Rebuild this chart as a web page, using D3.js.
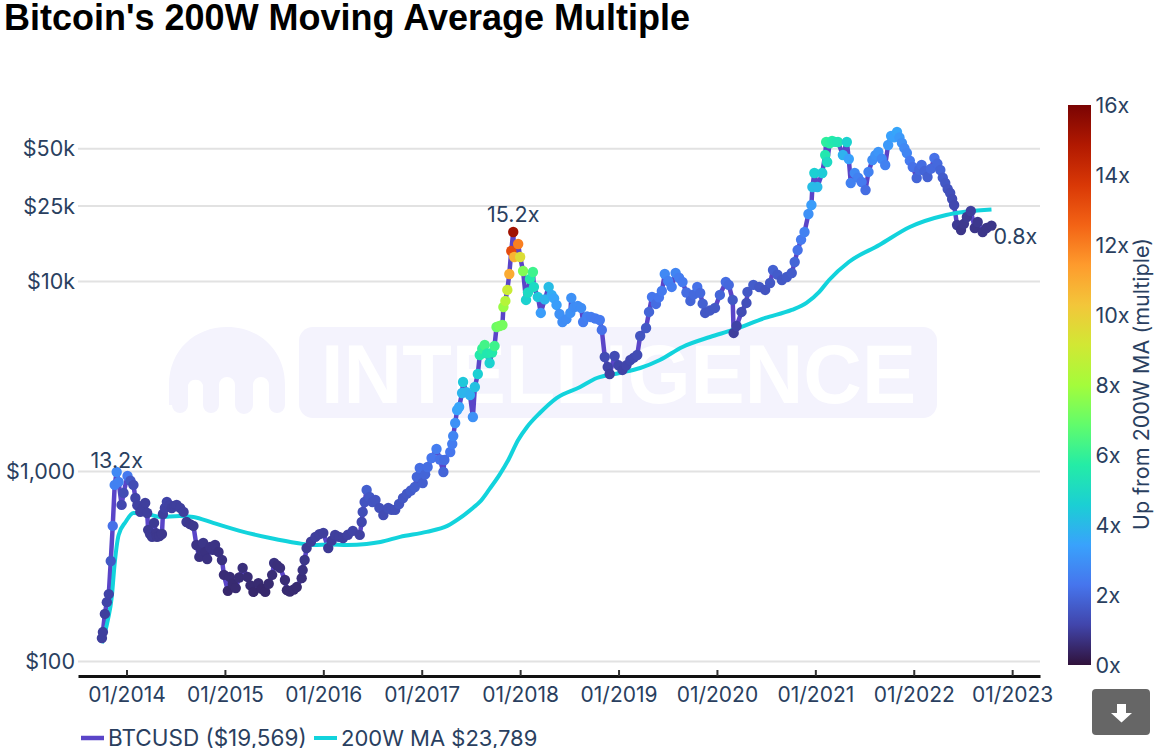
<!DOCTYPE html>
<html>
<head>
<meta charset="utf-8">
<script src="https://d3js.org/d3.v7.min.js"></script>
<style>
  body { margin: 0; background: #fff; }
  svg { display: block; }
  text { font-family: Inter, sans-serif; fill: #2a3f5f; }
</style>
</head>
<body>
<div id="chart"></div>
<script>
const btcYears = [
  2013.75,2013.76,2013.78,2013.80,2013.82,2013.84,2013.86,2013.88,2013.90,2013.92,
  2013.95,2013.97,2014.01,2014.04,2014.07,2014.09,2014.11,2014.14,2014.165,2014.19,
  2014.21,2014.22,2014.24,2014.26,2014.28,2014.30,2014.31,2014.335,2014.36,2014.37,
  2014.39,2014.41,2014.435,2014.46,2014.485,2014.51,2014.545,2014.58,2014.61,2014.645,
  2014.68,2014.71,2014.74,2014.76,2014.78,2014.80,2014.82,2014.85,2014.875,2014.90,
  2014.935,2014.97,2014.99,2015.03,2015.05,2015.08,2015.11,2015.145,2015.18,2015.23,
  2015.26,2015.29,2015.34,2015.375,2015.41,2015.445,2015.48,2015.50,2015.53,2015.56,
  2015.61,2015.63,2015.66,2015.70,2015.73,2015.78,2015.79,2015.81,2015.83,2015.875,
  2015.92,2015.96,2016.00,2016.05,2016.085,2016.12,2016.16,2016.20,2016.25,2016.30,
  2016.37,2016.39,2016.40,2016.42,2016.44,2016.47,2016.50,2016.53,2016.57,2016.61,
  2016.66,2016.695,2016.73,2016.77,2016.81,2016.85,2016.89,2016.93,2016.95,2016.98,
  2017.01,2017.035,2017.06,2017.10,2017.15,2017.185,2017.22,2017.23,2017.29,2017.31,
  2017.32,2017.34,2017.36,2017.38,2017.41,2017.42,2017.455,2017.49,2017.52,2017.54,
  2017.57,2017.59,2017.615,2017.64,2017.665,2017.69,2017.715,2017.74,2017.76,2017.79,
  2017.82,2017.83,2017.85,2017.87,2017.89,2017.91,2017.93,2017.94,2017.98,2018.00,
  2018.03,2018.06,2018.08,2018.10,2018.13,2018.14,2018.18,2018.21,2018.25,2018.29,
  2018.32,2018.345,2018.37,2018.40,2018.43,2018.47,2018.51,2018.52,2018.55,2018.585,
  2018.62,2018.64,2018.68,2018.72,2018.765,2018.81,2018.83,2018.86,2018.89,2018.91,
  2018.96,2019.00,2019.04,2019.08,2019.12,2019.155,2019.19,2019.22,2019.28,2019.31,
  2019.34,2019.38,2019.41,2019.44,2019.47,2019.505,2019.54,2019.58,2019.615,2019.65,
  2019.69,2019.73,2019.765,2019.80,2019.83,2019.855,2019.88,2019.93,2019.98,2020.03,
  2020.09,2020.12,2020.16,2020.17,2020.20,2020.25,2020.30,2020.31,2020.37,2020.43,
  2020.49,2020.54,2020.57,2020.615,2020.66,2020.71,2020.76,2020.79,2020.82,2020.855,
  2020.89,2020.93,2020.96,2020.97,2020.99,2021.02,2021.07,2021.10,2021.11,2021.12,
  2021.145,2021.17,2021.20,2021.23,2021.28,2021.32,2021.34,2021.36,2021.40,2021.435,
  2021.47,2021.51,2021.54,2021.58,2021.61,2021.64,2021.675,2021.71,2021.74,2021.77,
  2021.80,2021.83,2021.855,2021.88,2021.905,2021.93,2021.96,2021.99,2022.03,2022.055,
  2022.08,2022.11,2022.14,2022.175,2022.21,2022.24,2022.27,2022.295,2022.32,2022.345,
  2022.37,2022.39,2022.41,2022.44,2022.48,2022.51,2022.54,2022.58,2022.62,2022.65,
  2022.70,2022.74,2022.79
];
const btcPrices = [
  132,142,177,204,225,336,514,845,988,876,
  663,767,942,890,845,721,660,609,640,679,
  601,490,465,450,533,470,450,455,466,594,
  640,687,660,639,655,663,640,609,539,525,
  514,408,353,385,418,375,344,398,385,408,
  375,340,284,234,277,255,242,275,309,277,
  250,231,257,240,231,255,284,328,318,309,
  267,236,232,238,245,273,301,340,393,425,
  450,465,472,393,430,461,450,444,462,484,
  461,539,609,687,795,730,687,704,640,587,
  639,625,624,670,721,760,790,824,931,1037,
  865,960,1050,1170,1305,1150,988,1143,1259,1387,
  1528,1789,2094,2172,2573,2941,2600,2512,1924,2768,
  3241,4080,4400,4606,4150,3704,4200,4550,5730,5800,
  5870,7300,7853,8974,10886,14380,18110,13370,15660,13370,
  11290,7950,8700,10250,11150,9307,8243,6790,8000,9307,
  8446,8100,7482,6700,6088,6300,6790,8146,7300,7400,
  7215,6088,6500,6468,6350,6237,5526,3980,3528,3241,
  4030,3600,3403,3600,3840,3950,4080,5138,5660,6874,
  8243,7573,8200,8866,10886,10000,9307,11019,10400,9880,
  8700,7853,8500,9307,8653,7600,6790,7000,7215,8446,
  9880,9540,7950,5329,5800,6874,7666,8760,9540,9300,
  8974,9760,11430,10800,10122,10500,11019,12590,14550,16500,
  18110,22520,25120,31250,37040,31250,37040,46060,53900,42320,
  53000,54590,54000,53900,46060,53900,43880,32800,37040,35000,
  33200,30130,37500,43350,46000,47800,44000,40800,52000,58000,
  57000,60880,57000,53290,50000,47200,43000,39800,34850,38500,
  40800,38000,35280,39000,44400,41500,38400,35000,32800,30500,
  29060,27000,25120,19710,18550,20000,21720,23360,19000,20440,
  18110,19000,19569
];
const btcMultiples = [
  1,1,1,1.1,1.1,1.6,2.2,2.6,2.8,2.6,
  1.2,1.3,2.4,1.6,1.3,1.1,1.05,1,1,1,
  1,.9,.9,.9,.9,.85,.85,.85,.85,1,
  1.05,1.1,1.05,1,1,1,1,1,.9,.85,
  .85,.75,.7,.75,.8,.7,.7,.75,.75,.75,
  .7,.7,.6,.5,.6,.55,.55,.6,.65,.6,
  .55,.5,.55,.5,.5,.55,.6,.7,.65,.65,
  .6,.55,.55,.55,.55,.65,.7,.8,.9,.95,
  1,1,1,.9,.95,1,1,1,1.05,1.1,
  1.05,1.2,1.35,1.5,1.75,1.6,1.5,1.5,1.4,1.3,
  1.4,1.4,1.4,1.5,1.55,1.6,1.7,1.75,1.9,2.1,
  1.75,1.9,2.1,2.3,2.5,2.2,1.9,2.1,2.3,2.5,
  2.7,3,3.4,3.5,3.9,4.4,3.9,3.8,3,4.2,
  4.6,5.6,6,6.3,5.5,4.7,5.6,6.2,7,7.2,
  7.2,7.8,8.4,9,11,13.2,15.2,10.8,12,9.5,
  7.4,4.7,5,5.6,6.2,5,4.4,3.3,3.9,4.1,
  3.7,3.5,3.3,3,2.9,2.9,3,3,2.9,2.9,
  2.9,2.5,2.6,2.5,2.4,2.4,2.2,1.3,1.1,1,
  1.3,1.15,1.1,1.15,1.2,1.25,1.3,1.5,1.6,1.9,
  2.3,2.1,2.3,2.4,2.8,2.6,2.5,2.7,2.5,2.4,
  2.1,1.9,2,2.2,2,1.8,1.6,1.6,1.6,1.9,
  2.1,2,1.6,1,1.1,1.3,1.4,1.6,1.7,1.6,
  1.5,1.6,1.8,1.7,1.6,1.65,1.7,1.9,2.2,2.4,
  2.6,3,3.3,4.1,4.6,4,4.5,5.5,5.9,5,
  5.8,5.7,5.5,5.4,3.8,4.7,3.4,2.6,2.8,2.6,
  2.4,2.1,2.6,2.9,3,3.1,2.8,2.6,3.2,3.4,
  3.4,3.5,3.2,3,2.8,2.7,2.4,2.2,1.9,2,
  2.1,1.9,1.8,2,2.2,2,1.9,1.7,1.6,1.5,
  1.4,1.3,1.2,.9,.8,.85,.9,1,.8,.85,
  .8,.8,.8
];

const maYears = [
  2013.75,2013.81,2013.85,2013.88,2013.92,2013.99,2014.07,2014.21,2014.34,2014.54,
  2014.68,2014.88,2015.15,2015.46,2015.73,2015.90,2016.07,2016.24,2016.44,2016.58,
  2016.78,2017.05,2017.26,2017.39,2017.52,2017.59,2017.69,2017.79,2017.88,2017.98,
  2018.07,2018.20,2018.37,2018.61,2018.78,2019.01,2019.22,2019.42,2019.65,2019.93,
  2020.16,2020.49,2020.76,2020.91,2021.04,2021.14,2021.34,2021.65,2021.96,2022.33,
  2022.79
];
const maPrices = [
  124,164,217,328,461,539,601,594,573,580,
  573,533,484,444,418,408,410,408,413,423,
  450,478,514,566,639,687,805,954,1143,1455,
  1705,2020,2422,2768,3086,3280,3485,3840,4496,5074,
  5526,6390,7042,7666,8760,10122,12590,15470,19240,22250,
  23789
];

const priceTicks = [100, 1000, 10000, 25000, 50000];
const priceLabels = ["$100", "$1,000", "$10k", "$25k", "$50k"];
const yearTicks = [2014, 2015, 2016, 2017, 2018, 2019, 2020, 2021, 2022, 2023];
const multipleTicks = [0, 2, 4, 6, 8, 10, 12, 14, 16];
const turbo = ["#30123b","#4145ab","#4675ed","#39a2fc","#1bcfd4","#24eca6","#61fc6c","#a4fc3b",
  "#d1e834","#f3c63a","#fe9b2d","#f36315","#d93806","#b11901","#7a0403"];
const callouts = [
  {year: 2013.90, price: 988, label: "13.2x", dx: 0, dy: -4},
  {year: 2017.93, price: 18110, label: "15.2x", dx: 0, dy: -10},
  {year: 2022.79, price: 19569, label: "0.8x", dx: 2, dy: 18}
];

let width = 1162, height = 748;
let margin = {top: 104, bottom: 72, left: 78, right: 122};

let svg = d3.select("#chart")
  .append("svg")
  .attr("width", width)
  .attr("height", height);

svg.append("text")
  .attr("x", 4)
  .attr("y", 30)
  .style("font-family", "'Liberation Sans'")
  .style("font-weight", "bold")
  .style("font-size", "36px")
  .style("fill", "#000")
  .text("Bitcoin's 200W Moving Average Multiple");

// watermark
let mark = svg.append("g");
mark.append("path")
  .attr("d", "M169 405 V385 C169 350 195 327 227 327 C259 327 285 350 285 385 V405 a8 8 0 0 1 -16 0 V385 a8 8 0 0 0 -16 0 V405 a8 8 0 0 1 -18 0 V385 a8 8 0 0 0 -16 0 V405 a8 8 0 0 1 -16 0 V385 a8 8 0 0 0 -15 0 V405 a8 8 0 0 1 -16 0 Z")
  .attr("fill", "#f4f3fd");
mark.append("rect")
  .attr("x", 299).attr("y", 327)
  .attr("width", 638).attr("height", 91)
  .attr("rx", 14)
  .attr("fill", "#f4f3fd");
mark.append("text")
  .attr("x", 321).attr("y", 403)
  .attr("textLength", 595)
  .attr("lengthAdjust", "spacingAndGlyphs")
  .style("font-family", "'Liberation Sans'")
  .style("font-weight", "bold")
  .style("font-size", "83px")
  .style("fill", "#fff")
  .text("INTELLIGENCE");

let xscale = d3.scaleLinear()
  .domain([2013.507, 2023.283])
  .range([margin.left, width - margin.right]);

let yscale = d3.scaleLog()
  .domain([100, 10000])
  .range([661, 281]);

let colorscale = d3.scaleLinear()
  .domain(turbo.map((c, i) => i * 16 / (turbo.length - 1)))
  .range(turbo);

// grid and y labels
let yaxis = svg.append("g")
  .attr("transform", `translate(${margin.left},0)`)
  .call(d3.axisLeft(yscale)
    .tickValues(priceTicks)
    .tickSize(-(width - margin.left - margin.right))
    .tickPadding(3)
    .tickFormat((d, i) => priceLabels[i]));
yaxis.select(".domain").remove();
yaxis.selectAll("line").attr("stroke", "#e2e2e2").attr("stroke-width", 2);
yaxis.selectAll("text")
  .attr("dy", "0.36em")
  .style("font-size", "21.5px")
  .style("fill", "#2a3f5f");

// x axis
let xaxis = svg.append("g")
  .attr("transform", `translate(0,${height - margin.bottom})`)
  .call(d3.axisBottom(xscale)
    .tickValues(yearTicks)
    .tickSize(-6)
    .tickPadding(11)
    .tickSizeOuter(0)
    .tickFormat(d => "01/" + d));
xaxis.select(".domain").attr("stroke", "#111").attr("stroke-width", 3);
xaxis.selectAll("line").attr("stroke", "#333").attr("stroke-width", 2);
xaxis.selectAll("text")
  .style("font-size", "21px")
  .style("fill", "#2a3f5f");

const btcPoints = btcYears.map((y, i) => ({year: y, price: btcPrices[i], multiple: btcMultiples[i]}));
const maPoints = maYears.map((y, i) => ({year: y, price: maPrices[i]}));

const btcLine = d3.line()
  .x(d => xscale(d.year))
  .y(d => yscale(d.price));

const maLine = d3.line()
  .x(d => xscale(d.year))
  .y(d => yscale(d.price))
  .curve(d3.curveMonotoneX);

svg.append("path")
  .datum(btcPoints)
  .attr("fill", "none")
  .attr("stroke", "#5a45c8")
  .attr("stroke-width", 4.5)
  .attr("stroke-linejoin", "round")
  .attr("d", btcLine);

svg.append("path")
  .datum(maPoints)
  .attr("fill", "none")
  .attr("stroke", "#12d3dc")
  .attr("stroke-width", 4)
  .attr("d", maLine);

svg.append("g")
  .selectAll("circle")
  .data(btcPoints)
  .join("circle")
  .attr("cx", d => xscale(d.year))
  .attr("cy", d => yscale(d.price))
  .attr("r", 5.2)
  .attr("fill", d => colorscale(d.multiple));

svg.append("g")
  .selectAll("text")
  .data(callouts)
  .join("text")
  .attr("x", d => xscale(d.year) + d.dx)
  .attr("y", d => yscale(d.price) + d.dy)
  .attr("text-anchor", d => d.dx ? "start" : "middle")
  .style("font-size", "21.5px")
  .text(d => d.label);

// colour bar
let barscale = d3.scaleLinear().domain([0, 16]).range([665, 105]);

let gradient = svg.append("defs")
  .append("linearGradient")
  .attr("id", "bar")
  .attr("x1", 0).attr("x2", 0)
  .attr("y1", 1).attr("y2", 0);
gradient.selectAll("stop")
  .data(turbo)
  .join("stop")
  .attr("offset", (d, i) => i / (turbo.length - 1))
  .attr("stop-color", d => d);

svg.append("rect")
  .attr("x", 1068)
  .attr("y", barscale(16))
  .attr("width", 23)
  .attr("height", barscale(0) - barscale(16))
  .attr("fill", "url(#bar)");

svg.append("g")
  .selectAll("text")
  .data(multipleTicks)
  .join("text")
  .attr("x", 1095.5)
  .attr("y", d => barscale(d))
  .attr("dy", "0.36em")
  .style("font-size", "21.5px")
  .text(d => d + "x");

svg.append("text")
  .attr("transform", "translate(1149,384) rotate(-90)")
  .attr("text-anchor", "middle")
  .style("font-size", "21.5px")
  .text("Up from 200W MA (multiple)");

// legend
svg.append("line")
  .attr("x1", 81).attr("x2", 104)
  .attr("y1", 738).attr("y2", 738)
  .attr("stroke", "#5a45c8").attr("stroke-width", 4.5);
svg.append("text")
  .attr("x", 108).attr("y", 746)
  .style("font-size", "22.5px")
  .text("BTCUSD ($19,569)");
svg.append("line")
  .attr("x1", 314).attr("x2", 337)
  .attr("y1", 738).attr("y2", 738)
  .attr("stroke", "#12d3dc").attr("stroke-width", 4);
svg.append("text")
  .attr("x", 341).attr("y", 746)
  .style("font-size", "22px")
  .text("200W MA $23,789");

// download button
svg.append("rect")
  .attr("x", 1092).attr("y", 689)
  .attr("width", 58).attr("height", 46)
  .attr("rx", 4)
  .attr("fill", "#666");
svg.append("path")
  .attr("d", "M1117 704 h9 v9 h6 l-10.5 9.5 l-10.5 -9.5 h6 Z")
  .attr("fill", "#fff");
</script>
</body>
</html>
